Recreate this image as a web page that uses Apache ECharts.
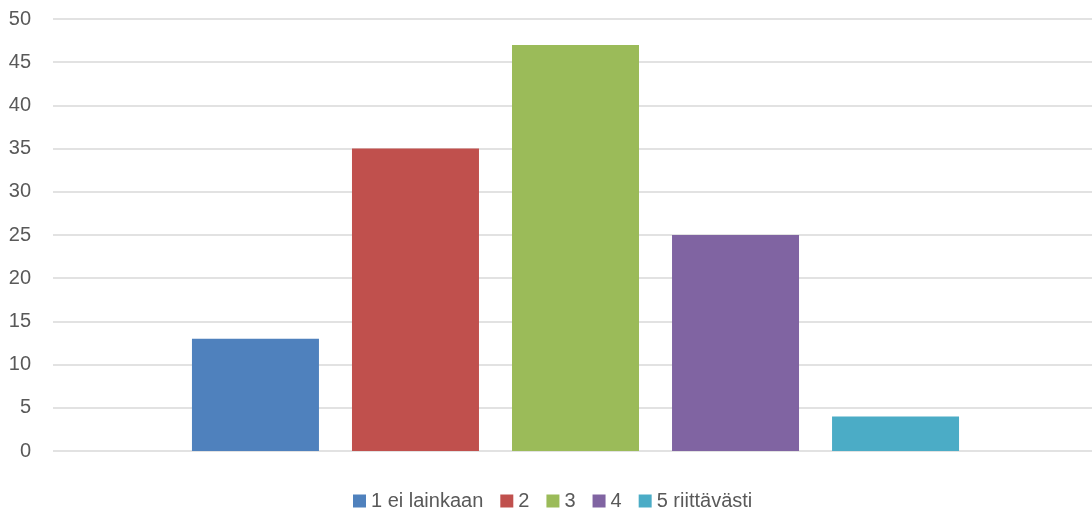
<!DOCTYPE html>
<html><head><meta charset="utf-8">
<script src="https://cdn.jsdelivr.net/npm/echarts@6/dist/echarts.min.js"></script>
<style>html,body{margin:0;padding:0;background:#fff}#c{width:1092px;height:516px}</style>
</head><body><div id="c"></div>
<script>
const categories = [''];
const seriesNames = ['1 ei lainkaan', '2', '3', '4', '5 riittävästi'];
const seriesValues = [13, 35, 47, 25, 4];
const colors = ['#4f81bd', '#c0504d', '#9bbb59', '#8064a2', '#4bacc6'];
const yTicks = {min: 0, max: 50, interval: 5};
const FONT = '"Liberation Sans", Arial, sans-serif';

const chart = echarts.init(document.getElementById('c'));
chart.setOption({
  animation: false,
  textStyle: {fontFamily: FONT},
  legend: {
    bottom: 0, left: 348, itemWidth: 13, itemHeight: 13, itemGap: 17, icon: 'rect',
    textStyle: {fontSize: 20, color: '#595959', fontFamily: FONT},
    data: seriesNames
  },
  grid: {left: 53, right: -6, top: 19, bottom: 65, containLabel: false, outerBoundsMode: 'none'},
  xAxis: {type: 'category', data: categories, axisLine: {show: false}, axisTick: {show: false}, axisLabel: {show: false}},
  yAxis: {
    type: 'value', min: yTicks.min, max: yTicks.max, interval: yTicks.interval,
    axisLine: {show: false}, axisTick: {show: false},
    axisLabel: {fontSize: 20, color: '#595959', margin: 22, fontFamily: FONT},
    splitLine: {lineStyle: {color: '#d9d9d9', width: 1.5}}
  },
  series: seriesNames.map((n, i) => ({
    name: n, type: 'bar', data: [seriesValues[i]], barWidth: 127, barGap: '26%',
    itemStyle: {color: colors[i]}
  }))
});
</script></body></html>
